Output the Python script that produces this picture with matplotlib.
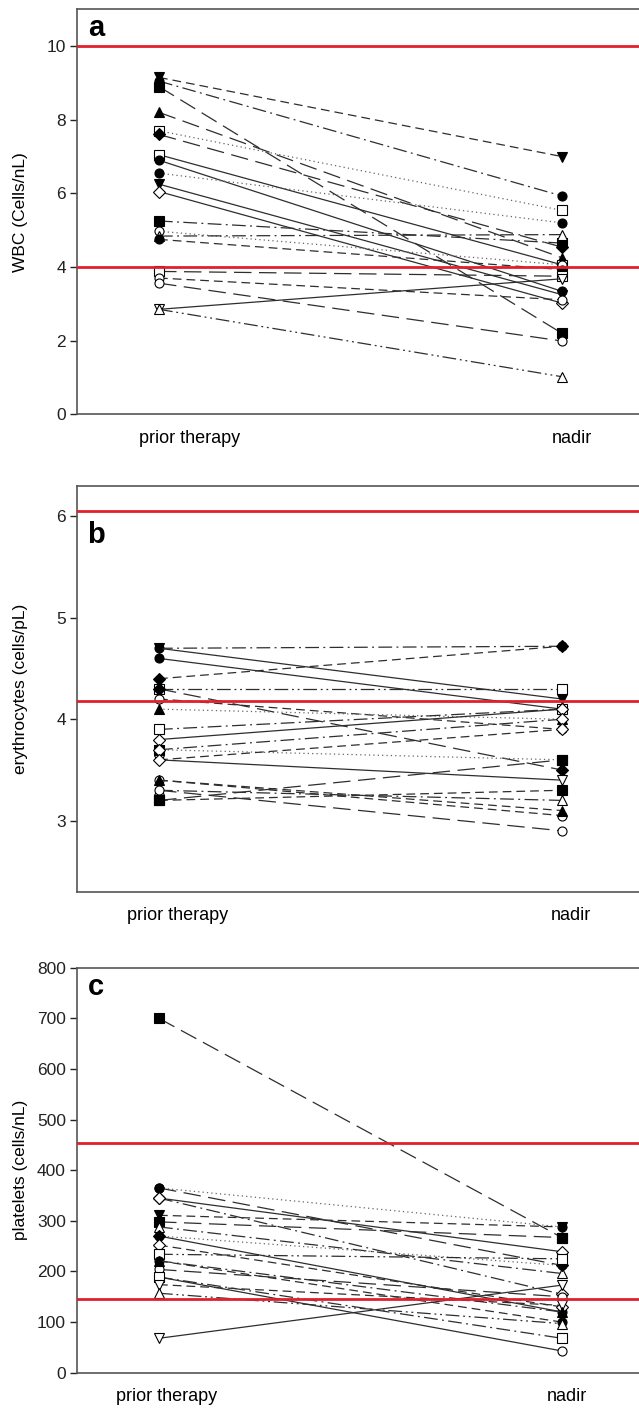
import matplotlib
matplotlib.use("Agg")
import matplotlib.pyplot as plt

plt.rcParams['font.family'] = ['Liberation Sans', 'DejaVu Sans']

# x categories
groups = ['prior therapy', 'nadir']

# panel a: WBC (Cells/nL)
wbc_prior = [9.15, 9.05, 8.9, 8.2, 7.7, 7.6, 7.05, 6.9, 6.55, 6.25, 6.05,
             5.25, 4.97, 4.84, 4.75, 3.88, 3.7, 3.56, 2.85, 2.85]
wbc_nadir = [7.0, 5.93, 2.2, 4.25, 5.54, 4.54, 4.06, 3.34, 5.2, 3.25, 3.02,
             4.65, 4.06, 4.88, 3.93, 3.75, 3.11, 1.99, 3.68, 1.02]
wbc_marker = ['v', 'o', 's', '^', 's', 'D', 's', 'o', 'o', 'v', 'D',
              's', 'o', '^', 'o', 's', 'o', 'o', 'v', '^']
wbc_filled = [1, 1, 1, 1, 0, 1, 0, 1, 1, 1, 0,
              1, 0, 0, 1, 0, 0, 0, 0, 0]
wbc_style = ['dash', 'dashdot', 'long', 'long', 'dot', 'long', 'solid', 'solid', 'dot', 'solid', 'solid',
             'dashdot', 'dot', 'dashdot', 'dash', 'long', 'dash', 'long', 'solid', 'dashdotdot']
wbc_limits = [10, 4]

# panel b: erythrocytes (cells/pL)
ery_prior = [4.7, 4.7, 4.6, 4.4, 4.3, 4.3, 4.2, 4.1, 3.9, 3.8,
             3.7, 3.7, 3.6, 3.6, 3.4, 3.3, 3.2, 3.2, 3.3, 3.4]
ery_nadir = [4.72, 4.2, 4.1, 4.72, 4.3, 3.5, 3.9, 4.0, 4.1, 4.1,
             3.6, 4.0, 3.4, 3.9, 3.05, 3.2, 3.6, 3.3, 2.9, 3.1]
ery_marker = ['o', 'v', 'o', 'D', 's', 'D', 'o', '^', 's', 'D',
              's', 'D', 'v', 'D', 'o', '^', 's', 's', 'o', '^']
ery_filled = [1, 1, 1, 1, 0, 1, 0, 1, 0, 0,
              1, 0, 0, 0, 0, 0, 1, 1, 0, 1]
ery_style = ['dashdot', 'solid', 'solid', 'dash', 'dashdotdot', 'long', 'dash', 'dot', 'dashdot', 'solid',
             'dot', 'dashdot', 'solid', 'dash', 'dash', 'dashdot', 'long', 'dash', 'long', 'dash']
ery_limits = [6.05, 4.18]

# panel c: platelets (cells/nL)
plt_prior = [700, 365, 365, 345, 345, 311, 298, 288, 270, 270,
             252, 234, 221, 204, 189, 189, 174, 157, 68, 221]
plt_nadir = [267, 288, 212, 239, 155, 288, 267, 196, 120, 212,
             130, 225, 100, 150, 43, 68, 133, 97, 173, 120]
plt_marker = ['s', 'o', 'o', 'D', 'D', 'v', 's', '^', 'o', 'D',
              'D', 's', 'o', 'o', 'o', 's', 'v', '^', 'v', '^']
plt_filled = [1, 1, 1, 0, 0, 1, 1, 0, 1, 1,
              0, 0, 1, 0, 0, 0, 0, 0, 0, 1]
plt_style = ['long', 'dot', 'long', 'solid', 'dashdot', 'dash', 'long', 'dashdot', 'solid', 'dot',
             'dash', 'dashdotdot', 'dash', 'long', 'solid', 'dashdot', 'dash', 'dashdotdot', 'solid', 'dashdot']
plt_limits = [453, 145]

dashes = {
    'solid': '-',
    'dash': (0, (7, 4)),
    'long': (0, (14, 6)),
    'dot': (0, (1, 2.5)),
    'dashdot': (0, (11, 3.5, 1.5, 3.5)),
    'dashdotdot': (0, (11, 3, 1.5, 3, 1.5, 3)),
}

fig = plt.figure(figsize=(6.39, 14.10), dpi=100)

def panel(rect, prior, nadir, markers, filled, styles, limits, ylim, yticks,
          ylabel, letter, letter_y, label_x):
    ax = fig.add_axes(rect)
    for p, n, m, f, s in zip(prior, nadir, markers, filled, styles):
        col = '#666666' if s == 'dot' else '#2e2e2e'
        ax.plot([0, 1], [p, n], linestyle=dashes[s], color=col, lw=0.9,
                marker=m, ms=6.5, mec='black', mew=0.8,
                mfc='black' if f else 'white', zorder=3)
    for lim in limits:
        ax.axhline(lim, color='#e0202a', lw=2.0, zorder=4)
    ax.set_xlim(-0.2035, 1.2)
    ax.set_ylim(*ylim)
    ax.set_yticks(yticks)
    ax.set_xticks(label_x)
    ax.set_xticklabels(groups)
    ax.tick_params(axis='x', length=0, pad=11, labelsize=13)
    ax.tick_params(axis='y', length=5, width=1, pad=3, labelsize=12.5, colors='#222222')
    for sp in ax.spines.values():
        sp.set_color('#555555')
        sp.set_linewidth(1.2)
    ax.set_ylabel(ylabel, fontsize=12.5)
    ax.yaxis.set_label_coords(-0.087, 0.5)
    ax.text(19 / 565.5, 1 - letter_y / 405, letter, transform=ax.transAxes,
            fontsize=21, fontweight='bold', ha='center', va='center')
    return ax

w = 0.885
left = 77 / 639
panel([left, 0.7062, w, 0.2872], wbc_prior, wbc_nadir, wbc_marker, wbc_filled, wbc_style,
      wbc_limits, (0, 11), [0, 2, 4, 6, 8, 10], 'WBC (Cells/nL)', 'a', 19, [0.077, 1.025])
panel([left, 0.3676, w, 0.2877], ery_prior, ery_nadir, ery_marker, ery_filled, ery_style,
      ery_limits, (2.3, 6.3), [3, 4, 5, 6], 'erythrocytes (cells/pL)', 'b', 49, [0.045, 1.022])
panel([left, 0.02645, w, 0.2872], plt_prior, plt_nadir, plt_marker, plt_filled, plt_style,
      plt_limits, (0, 800), list(range(0, 801, 100)), 'platelets (cells/nL)', 'c', 19, [0.02, 1.012])

fig.savefig('out.png', dpi=100)
